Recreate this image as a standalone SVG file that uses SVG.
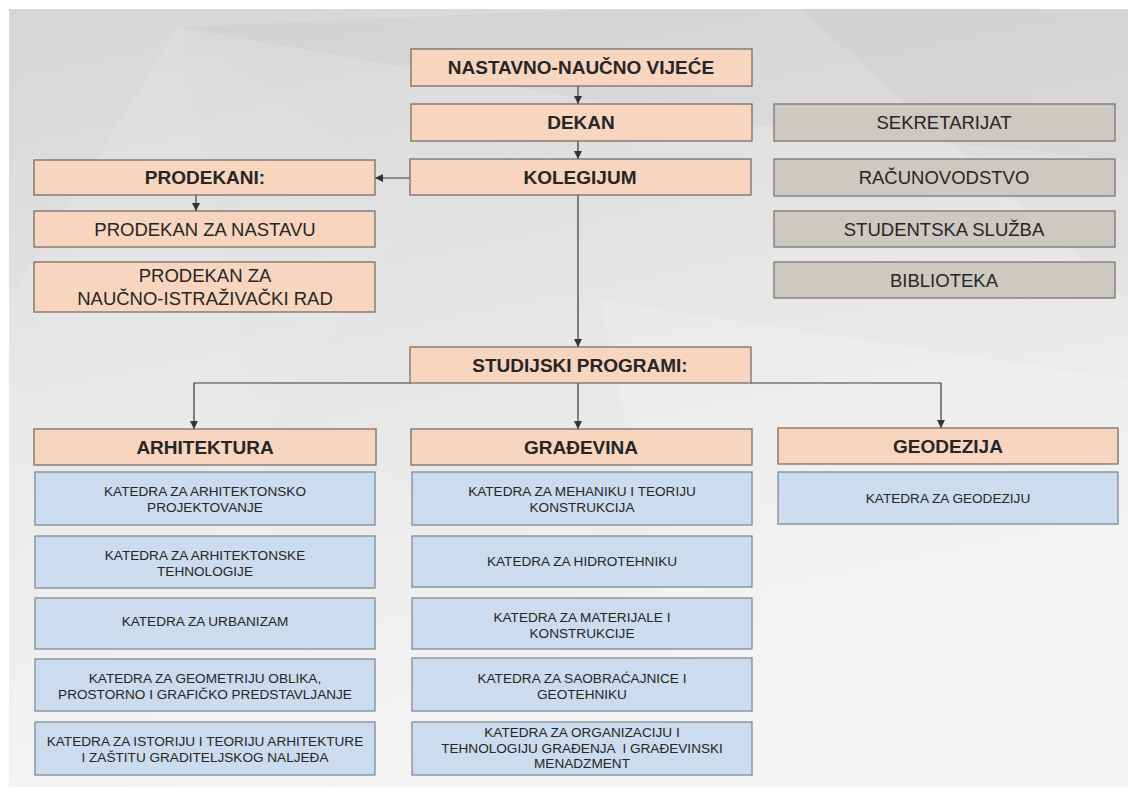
<svg xmlns="http://www.w3.org/2000/svg" width="1137" height="796" viewBox="0 0 1137 796">
  <defs>
    <linearGradient id="bgGrad" x1="0" y1="0" x2="0.3" y2="1">
      <stop offset="0" stop-color="#d6d6d6"/>
      <stop offset="0.5" stop-color="#e6e6e6"/>
      <stop offset="1" stop-color="#f3f3f3"/>
    </linearGradient>
    <marker id="arrow" viewBox="0 0 10 10" refX="10" refY="5" markerWidth="8" markerHeight="8" markerUnits="userSpaceOnUse" orient="auto">
      <path d="M0,0 L10,5 L0,10 z" fill="#333"/>
    </marker>
    <style>
      .peach { fill: #f8d5bf; stroke: #6f6560; stroke-width: 1.2; }
      .grey { fill: #cdc8c2; stroke: #707070; stroke-width: 1.2; }
      .blue { fill: #cbdcee; stroke: #7b838c; stroke-width: 1.2; }
      text { font-family: "Liberation Sans", Arial, sans-serif; fill: #262626; text-anchor: middle; }
      .hb { font-size: 19px; font-weight: bold; }
      .hn { font-size: 18.5px; }
      .kt { font-size: 13.6px; fill: #262626; }
      .conn { stroke: #3a3a3a; stroke-width: 1.2; fill: none; }
    </style>
  </defs>

  <!-- backdrop: framed low-poly grey panel -->
  <rect x="0" y="0" width="1137" height="796" fill="#ffffff"/>
  <rect x="9" y="9" width="1119" height="778" fill="url(#bgGrad)"/>
  <g>
    <polygon points="178,27 9,300 9,440 260,440" fill="#ffffff" opacity="0.12"/>
    <polygon points="178,27 260,440 420,200" fill="#ffffff" opacity="0.06"/>
    <polygon points="178,27 600,9 1128,9 1128,160 700,120" fill="#000000" opacity="0.025"/>
    <polygon points="800,9 1128,9 1128,300" fill="#000000" opacity="0.02"/>
    <polygon points="9,440 260,440 330,787 9,787" fill="#ffffff" opacity="0.15"/>
    <polygon points="600,300 1128,380 1128,787 700,787" fill="#ffffff" opacity="0.15"/>
    <polygon points="330,787 260,440 700,560 700,787" fill="#ffffff" opacity="0.08"/>
  </g>

  <!-- connectors -->
  <g id="connectors">
    <line class="conn" x1="578" y1="86" x2="578" y2="104" marker-end="url(#arrow)"/>
    <line class="conn" x1="578" y1="141" x2="578" y2="159" marker-end="url(#arrow)"/>
    <line class="conn" x1="410" y1="178" x2="375" y2="178" marker-end="url(#arrow)"/>
    <line class="conn" x1="196" y1="195" x2="196" y2="211" marker-end="url(#arrow)"/>
    <line class="conn" x1="578" y1="195" x2="578" y2="347" marker-end="url(#arrow)"/>
    <polyline class="conn" points="410,383 194,383 194,429" marker-end="url(#arrow)"/>
    <line class="conn" x1="578" y1="383" x2="578" y2="429" marker-end="url(#arrow)"/>
    <polyline class="conn" points="751,383 941,383 941,428" marker-end="url(#arrow)"/>
  </g>

  <!-- management -->
  <g id="vijece"><rect class="peach" x="411" y="49" width="341" height="37"/><text class="hb" x="581" y="74">NASTAVNO-NAUČNO VIJEĆE</text></g>
  <g id="dekan"><rect class="peach" x="411" y="104" width="341" height="37"/><text class="hb" x="581" y="129">DEKAN</text></g>
  <g id="kolegijum"><rect class="peach" x="410" y="159" width="341" height="36"/><text class="hb" x="580" y="184">KOLEGIJUM</text></g>

  <g id="prodekani"><rect class="peach" x="34" y="160" width="341" height="35"/><text class="hb" x="205" y="184">PRODEKANI:</text></g>
  <g id="prodekan-nastava"><rect class="peach" x="34" y="211" width="341" height="36"/><text class="hn" x="205" y="235.5">PRODEKAN ZA NASTAVU</text></g>
  <g id="prodekan-nauka"><rect class="peach" x="34" y="262" width="341" height="50"/><text class="hn" x="205" y="281.5">PRODEKAN ZA</text><text class="hn" x="205" y="304.5">NAUČNO-ISTRAŽIVAČKI RAD</text></g>

  <!-- services -->
  <g id="sekretarijat"><rect class="grey" x="774" y="104" width="341" height="37"/><text class="hn" x="944" y="129">SEKRETARIJAT</text></g>
  <g id="racunovodstvo"><rect class="grey" x="774" y="159" width="341" height="37"/><text class="hn" x="944" y="184">RAČUNOVODSTVO</text></g>
  <g id="studentska-sluzba"><rect class="grey" x="774" y="211" width="341" height="36"/><text class="hn" x="944" y="235.5">STUDENTSKA SLUŽBA</text></g>
  <g id="biblioteka"><rect class="grey" x="774" y="262" width="341" height="36"/><text class="hn" x="944" y="286.5">BIBLIOTEKA</text></g>

  <!-- study programmes -->
  <g id="studijski-programi"><rect class="peach" x="410" y="347" width="341" height="36"/><text class="hb" x="580" y="372">STUDIJSKI PROGRAMI:</text></g>
  <g id="arhitektura"><rect class="peach" x="34" y="429" width="342" height="36"/><text class="hb" x="205" y="454">ARHITEKTURA</text></g>
  <g id="gradjevina"><rect class="peach" x="411" y="429" width="341" height="36"/><text class="hb" x="581" y="454">GRAĐEVINA</text></g>
  <g id="geodezija"><rect class="peach" x="778" y="428" width="340" height="36"/><text class="hb" x="948" y="453">GEODEZIJA</text></g>

  <!-- departments: architecture -->
  <g id="k-arh-projektovanje"><rect class="blue" x="35" y="472" width="340" height="53"/><text class="kt" x="205" y="496">KATEDRA ZA ARHITEKTONSKO</text><text class="kt" x="205" y="512">PROJEKTOVANJE</text></g>
  <g id="k-arh-tehnologije"><rect class="blue" x="35" y="536" width="340" height="52"/><text class="kt" x="205" y="559.5">KATEDRA ZA ARHITEKTONSKE</text><text class="kt" x="205" y="575.5">TEHNOLOGIJE</text></g>
  <g id="k-urbanizam"><rect class="blue" x="35" y="598" width="340" height="51"/><text class="kt" x="205" y="626">KATEDRA ZA URBANIZAM</text></g>
  <g id="k-geometrija"><rect class="blue" x="35" y="659" width="340" height="52"/><text class="kt" x="205" y="682.5">KATEDRA ZA GEOMETRIJU OBLIKA,</text><text class="kt" x="205" y="698.5">PROSTORNO I GRAFIČKO PREDSTAVLJANJE</text></g>
  <g id="k-istorija"><rect class="blue" x="35" y="722" width="340" height="53"/><text class="kt" x="205" y="746">KATEDRA ZA ISTORIJU I TEORIJU ARHITEKTURE</text><text class="kt" x="205" y="762">I ZAŠTITU GRADITELJSKOG NALJEĐA</text></g>

  <!-- departments: civil engineering -->
  <g id="k-mehanika"><rect class="blue" x="412" y="472" width="340" height="53"/><text class="kt" x="582" y="496">KATEDRA ZA MEHANIKU I TEORIJU</text><text class="kt" x="582" y="512">KONSTRUKCIJA</text></g>
  <g id="k-hidrotehnika"><rect class="blue" x="412" y="536" width="340" height="51"/><text class="kt" x="582" y="566">KATEDRA ZA HIDROTEHNIKU</text></g>
  <g id="k-materijali"><rect class="blue" x="412" y="598" width="340" height="51"/><text class="kt" x="582" y="621.5">KATEDRA ZA MATERIJALE I</text><text class="kt" x="582" y="637.5">KONSTRUKCIJE</text></g>
  <g id="k-saobracajnice"><rect class="blue" x="412" y="658" width="340" height="53"/><text class="kt" x="582" y="682.5">KATEDRA ZA SAOBRAĆAJNICE I</text><text class="kt" x="582" y="698.5">GEOTEHNIKU</text></g>
  <g id="k-organizacija"><rect class="blue" x="412" y="722" width="340" height="53"/><text class="kt" x="582" y="736.5">KATEDRA ZA ORGANIZACIJU I</text><text class="kt" x="582" y="752.5" xml:space="preserve">TEHNOLOGIJU GRAĐENJA  I GRAĐEVINSKI</text><text class="kt" x="582" y="768">MENADZMENT</text></g>

  <!-- departments: geodesy -->
  <g id="k-geodezija"><rect class="blue" x="778" y="472" width="340" height="52"/><text class="kt" x="948" y="502.5">KATEDRA ZA GEODEZIJU</text></g>
</svg>
